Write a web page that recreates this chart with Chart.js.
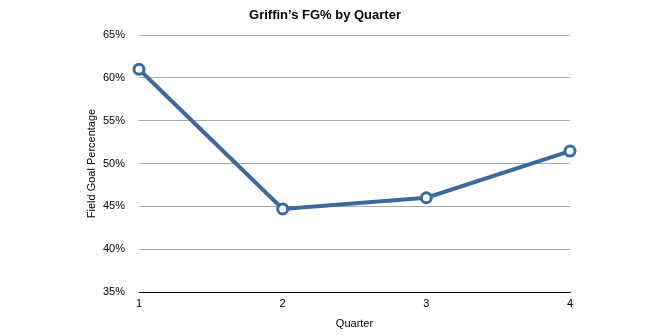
<!DOCTYPE html>
<html>
<head>
<meta charset="utf-8">
<script src="https://cdn.jsdelivr.net/npm/chart.js@4"></script>
<style>
  html, body { margin: 0; padding: 0; background: #fff; }
  #wrap { width: 667px; height: 336px; }
</style>
</head>
<body>
<div id="wrap"><canvas id="fgChart"></canvas></div>
<script>
var quarters = ["1", "2", "3", "4"];
var fgPct = [61.0, 44.7, 46.0, 51.45];
var yTicks = [35, 40, 45, 50, 55, 60, 65];

var lineBlue = "#3b6a9c";

new Chart("fgChart", {
    type: "line",
    data: {
        labels: quarters,
        datasets: [{
            data: fgPct,
            borderColor: lineBlue,
            borderWidth: 4,
            pointBackgroundColor: "#fff",
            pointBorderColor: lineBlue,
            pointBorderWidth: 3,
            pointRadius: 5,
            tension: 0
        }]
    },
    options: {
        responsive: true,
        maintainAspectRatio: false,
        animation: false,
        layout: {
            padding: { left: 80, right: 97, top: 0, bottom: 0 }
        },
        plugins: {
            legend: { display: false },
            tooltip: { enabled: false },
            title: {
                display: true,
                text: "Griffin\u2019s FG% by Quarter",
                color: "#000",
                font: { family: "Liberation Sans", size: 13, weight: "bold" },
                padding: { top: 8, bottom: 11.4 }
            }
        },
        scales: {
            x: {
                offset: false,
                afterFit: function (scale) {
                    scale.height = 44;
                },
                grid: { display: false, drawTicks: false },
                border: { display: true, color: "#000", width: 1 },
                ticks: {
                    color: "#000",
                    padding: 5,
                    font: { family: "Liberation Sans", size: 11 }
                },
                title: {
                    display: true,
                    text: "Quarter",
                    color: "#000",
                    font: { family: "Liberation Sans", size: 11 },
                    padding: { top: 4, bottom: 5 }
                }
            },
            y: {
                min: yTicks[0],
                max: yTicks[yTicks.length - 1],
                afterBuildTicks: function (scale) {
                    scale.ticks = yTicks.map(function (v) { return { value: v }; });
                },
                afterFit: function (scale) {
                    scale.width = 59;
                },
                grid: {
                    drawTicks: false,
                    color: function (ctx) {
                        return ctx.tick && ctx.tick.value === yTicks[0] ? "#000" : "#aaa";
                    }
                },
                border: { display: false },
                ticks: {
                    color: "#000",
                    padding: 14,
                    font: { family: "Liberation Sans", size: 11 },
                    callback: function (v) { return v + "%"; }
                },
                title: {
                    display: true,
                    text: "Field Goal Percentage",
                    color: "#000",
                    font: { family: "Liberation Sans", size: 11 },
                    padding: { top: 5, bottom: 4 }
                }
            }
        }
    }
});
</script>
</body>
</html>
